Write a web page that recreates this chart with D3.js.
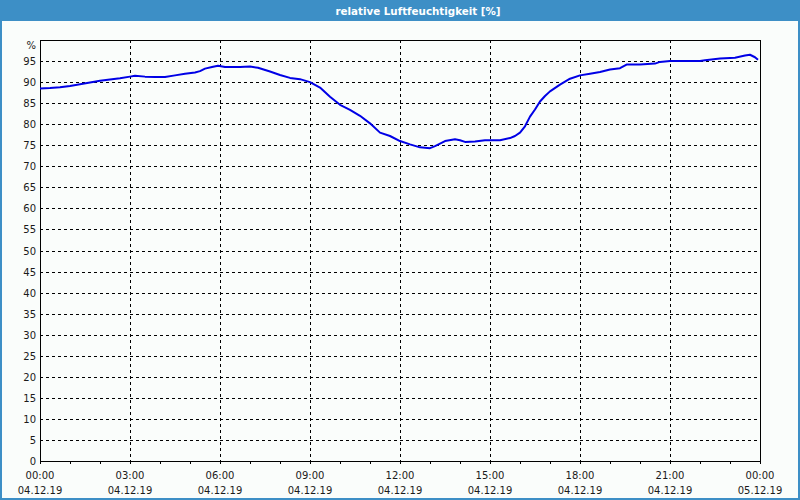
<!DOCTYPE html>
<html><head><meta charset="utf-8">
<script src="https://cdn.jsdelivr.net/npm/d3@7"></script>
<style>
html,body{margin:0;padding:0;background:#fafdfb;}
svg{display:block;}
</style></head>
<body>
<svg id="chart" width="800" height="500"></svg>
<script>
const title = "relative Luftfeuchtigkeit [%]";
// minutes since 04.12.19 00:00
const minutes = [0,20,40,60,80,100,120,140,160,180,190,210,230,250,270,290,310,320,330,344,356,370,400,420,436,460,480,500,520,540,560,580,600,620,640,660,680,700,720,740,760,780,790,810,830,840,850,870,890,920,940,950,960,970,980,990,1000,1010,1020,1040,1060,1080,1100,1120,1140,1160,1174,1200,1230,1240,1260,1320,1330,1360,1390,1410,1420,1430,1436];
const humidity = [88.5,88.6,88.8,89.1,89.5,89.9,90.3,90.6,90.9,91.3,91.5,91.3,91.2,91.2,91.6,92.0,92.3,92.6,93.2,93.6,93.9,93.6,93.6,93.7,93.4,92.5,91.7,91.0,90.7,90.0,88.7,86.5,84.6,83.4,82.0,80.2,78.0,77.2,76.0,75.2,74.5,74.3,74.8,76.0,76.4,76.2,75.8,75.9,76.2,76.2,76.7,77.2,78.0,79.5,81.8,83.5,85.4,86.7,87.8,89.4,90.8,91.6,92.0,92.4,93.0,93.3,94.2,94.2,94.4,94.8,95.0,95.0,95.2,95.6,95.8,96.3,96.5,95.9,95.3];
const yTicks = [0,5,10,15,20,25,30,35,40,45,50,55,60,65,70,75,80,85,90,95];
const xTickMinutes = [0,180,360,540,720,900,1080,1260,1440];
const xTickTimes = ["00:00","03:00","06:00","09:00","12:00","15:00","18:00","21:00","00:00"];
const xTickDates = ["04.12.19","04.12.19","04.12.19","04.12.19","04.12.19","04.12.19","04.12.19","04.12.19","05.12.19"];
const unitLabel = "%";

const svg = d3.select("#chart");
const W = 800, H = 500;
const font = "'DejaVu Sans', Verdana, sans-serif";
const blue = "#3d8fc6";

// window frame
svg.append("rect").attr("x",0).attr("y",0).attr("width",W).attr("height",H).attr("fill",blue);
svg.append("rect").attr("x",2).attr("y",21).attr("width",W-4).attr("height",H-23).attr("fill","#fafdfb");
svg.append("text").attr("x",418).attr("y",14.5).attr("text-anchor","middle")
  .attr("font-family",font).attr("font-size","10.3px").attr("font-weight","bold")
  .attr("fill","#ffffff").text(title);

const x = d3.scaleLinear().domain([0,1440]).range([40,760]);
const y = d3.scaleLinear().domain([0,100]).range([461,40]);

const g = svg.append("g");

// horizontal grid
g.selectAll("line.hg").data(yTicks.filter(v=>v>0)).join("line")
  .attr("x1",x(0)).attr("x2",x(1440))
  .attr("y1",d=>Math.round(y(d))+0.5).attr("y2",d=>Math.round(y(d))+0.5)
  .attr("stroke","#000").attr("stroke-width",1).attr("stroke-dasharray","3,3");
// vertical grid
g.selectAll("line.vg").data(xTickMinutes.slice(1,-1)).join("line")
  .attr("x1",d=>Math.round(x(d))+0.5).attr("x2",d=>Math.round(x(d))+0.5)
  .attr("y1",y(100)).attr("y2",y(0))
  .attr("stroke","#000").attr("stroke-width",1).attr("stroke-dasharray","3,3");

// hourly ticks on x axis
const hourTicks = d3.range(0,1441,60);
g.selectAll("line.ht").data(hourTicks).join("line")
  .attr("x1",d=>Math.round(x(d))+0.5).attr("x2",d=>Math.round(x(d))+0.5)
  .attr("y1",y(0)).attr("y2",y(0)+3)
  .attr("stroke","#000").attr("stroke-width",1);

// frame of plot
g.append("rect").attr("x",x(0)+0.5).attr("y",y(100)+0.5)
  .attr("width",x(1440)-x(0)).attr("height",y(0)-y(100))
  .attr("fill","none").attr("stroke","#000").attr("stroke-width",1);

// y labels
g.selectAll("text.yl").data(yTicks).join("text")
  .attr("x",36).attr("y",d=>y(d)+4).attr("text-anchor","end")
  .attr("font-family",font).attr("font-size","10px").attr("fill","#1a1a1a")
  .text(d=>d);
g.append("text").attr("x",36).attr("y",y(100)+9).attr("text-anchor","end")
  .attr("font-family",font).attr("font-size","10px").attr("fill","#1a1a1a").text(unitLabel);

// x labels
xTickMinutes.forEach((m,i)=>{
  g.append("text").attr("x",x(m)).attr("y",479).attr("text-anchor","middle")
    .attr("font-family",font).attr("font-size","10px").attr("fill","#1a1a1a").text(xTickTimes[i]);
  g.append("text").attr("x",x(m)).attr("y",494).attr("text-anchor","middle")
    .attr("font-family",font).attr("font-size","10px").attr("fill","#1a1a1a").text(xTickDates[i]);
});

// line
const pts = minutes.map((m,i)=>[m,humidity[i]]);
g.append("path").datum(pts)
  .attr("fill","none").attr("stroke","#0000e6").attr("stroke-width",2)
  .attr("stroke-linejoin","round")
  .attr("d",d3.line().x(d=>x(d[0])).y(d=>y(d[1])));
</script>
</body></html>
